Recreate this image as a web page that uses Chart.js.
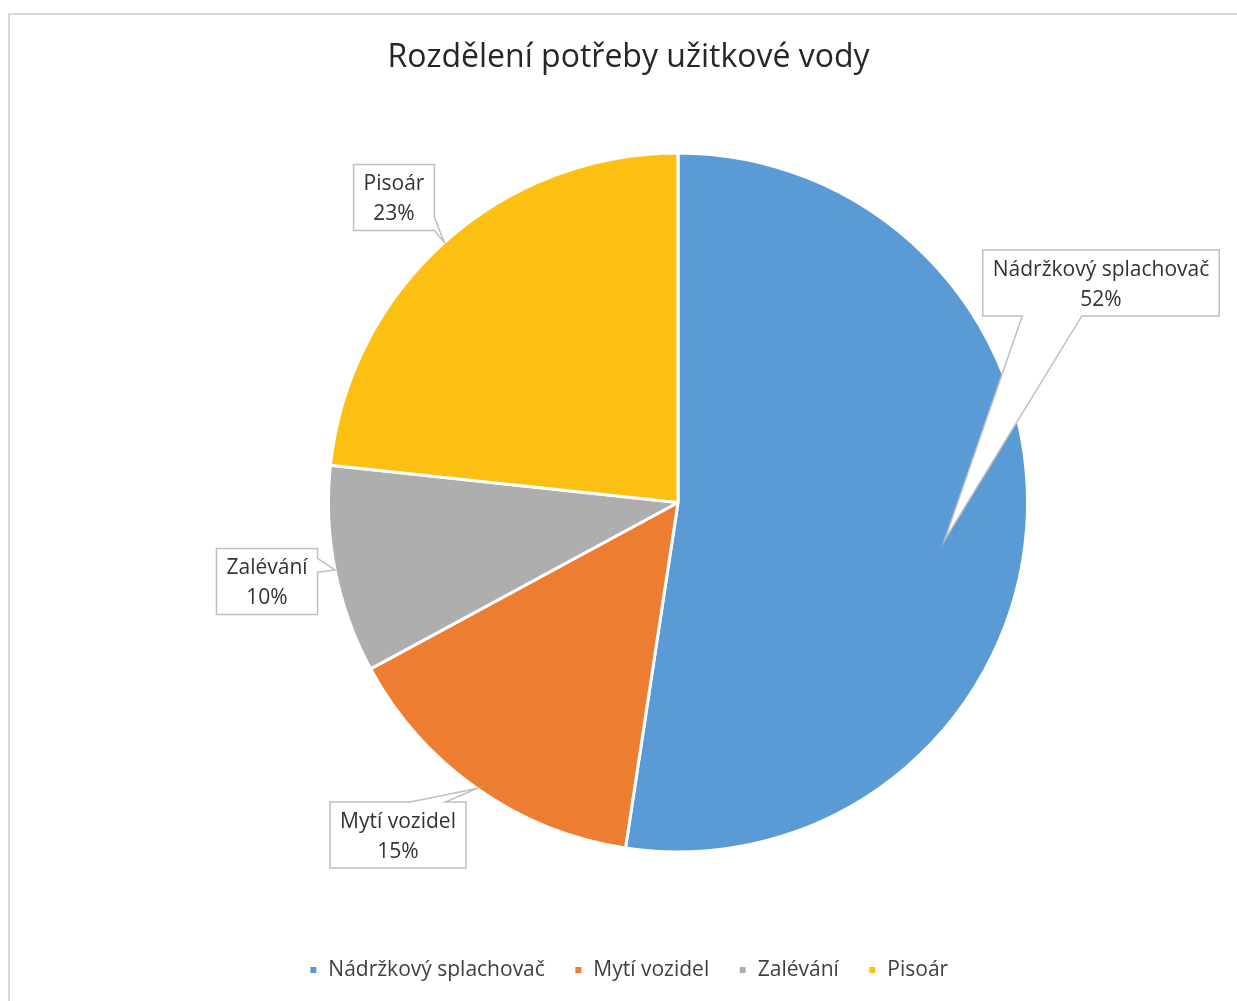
<!DOCTYPE html>
<html>
<head>
<meta charset="utf-8">
<script src="https://cdn.jsdelivr.net/npm/chart.js@4.4.1/dist/chart.umd.min.js"></script>
<style>
  html, body { margin: 0; padding: 0; background: #ffffff; overflow: hidden; width: 1237px; height: 1001px; }
  #frame { position: absolute; left: 8px; top: 13px; width: 1300px; height: 1100px;
           border-left: 2px solid #d9d9d9; border-top: 2px solid #d9d9d9; box-sizing: border-box; }
  #wrap { position: absolute; left: 10px; top: 15px; width: 1237px; height: 986px; }
</style>
</head>
<body>
<div id="frame"></div>
<div id="wrap"><canvas id="c"></canvas></div>
<script>
// ---- data ----
const title = 'Rozdělení potřeby užitkové vody';
const categories = ['Nádržkový splachovač', 'Mytí vozidel', 'Zalévání', 'Pisoár'];
const values = [52.4, 14.7, 9.6, 23.3];
const colors = ['#5B9BD5', '#ED7D31', '#AEAEAE', '#FBC012'];

const FONT = "'Open Sans', 'DejaVu Sans', sans-serif";

// callout layout (offset of box centre from pie centre, wedge side & base, tip)
const calloutLayout = [
  { dx: 423, dy: -219.5, side: 'bottom', a: 0.167, b: 0.419, rFrac: 0.77, shiftDeg: 3.8 },
  { dx: -280, dy: 332.5, side: 'top', a: 0.59, b: 0.85, rFrac: 1.0, shiftDeg: 0 },
  { dx: -411, dy: 79, side: 'right', a: 0.15, b: 0.36, rFrac: 1.0, shiftDeg: 0 },
  { dx: -284, dy: -305, side: 'right', a: 0.80, b: 1.0, rFrac: 1.0, shiftDeg: 0 }
];

const PLOT_SHIFT_LEFT = 99;
const PLOT_TRIM_BOTTOM = 77;

const shiftPlugin = {
  id: 'shiftPlot',
  afterLayout(chart) {
    const ca = chart.chartArea;
    ca.left += PLOT_SHIFT_LEFT;
    ca.width = ca.right - ca.left;
    ca.bottom -= PLOT_TRIM_BOTTOM;
    ca.height = ca.bottom - ca.top;
  }
};

const calloutPlugin = {
  id: 'callouts',
  afterDatasetsDraw(chart) {
    const ctx = chart.ctx;
    const meta = chart.getDatasetMeta(0);
    const total = values.reduce((s, v) => s + v, 0);
    ctx.save();
    ctx.font = '21px ' + FONT;
    meta.data.forEach((arc, i) => {
      const L = calloutLayout[i];
      const cx = arc.x, cy = arc.y, R = arc.outerRadius;
      const mid = (arc.startAngle + arc.endAngle) / 2 + L.shiftDeg * Math.PI / 180;
      const tip = { x: cx + Math.cos(mid) * R * L.rFrac, y: cy + Math.sin(mid) * R * L.rFrac };
      const line1 = categories[i];
      const line2 = Math.round(values[i] / total * 100) + '%';
      const tw = Math.max(ctx.measureText(line1).width, ctx.measureText(line2).width);
      const w = tw + 20, h = 66;
      const bx = cx + L.dx, by = cy + L.dy;
      const x0 = bx - w / 2, y0 = by - h / 2, x1 = bx + w / 2, y1 = by + h / 2;
      ctx.beginPath();
      ctx.moveTo(x0, y0);
      if (L.side === 'top') { ctx.lineTo(x0 + L.a * w, y0); ctx.lineTo(tip.x, tip.y); ctx.lineTo(x0 + L.b * w, y0); }
      ctx.lineTo(x1, y0);
      if (L.side === 'right') { ctx.lineTo(x1, y0 + L.a * h); ctx.lineTo(tip.x, tip.y); ctx.lineTo(x1, y0 + L.b * h); }
      ctx.lineTo(x1, y1);
      if (L.side === 'bottom') { ctx.lineTo(x0 + L.b * w, y1); ctx.lineTo(tip.x, tip.y); ctx.lineTo(x0 + L.a * w, y1); }
      ctx.lineTo(x0, y1);
      if (L.side === 'left') { ctx.lineTo(x0, y0 + L.b * h); ctx.lineTo(tip.x, tip.y); ctx.lineTo(x0, y0 + L.a * h); }
      ctx.closePath();
      ctx.fillStyle = '#ffffff';
      ctx.fill();
      ctx.lineWidth = 1.5;
      ctx.strokeStyle = '#bfbfbf';
      ctx.stroke();
      ctx.fillStyle = '#333333';
      ctx.textAlign = 'center';
      ctx.textBaseline = 'middle';
      ctx.fillText(line1, bx, by - 13);
      ctx.fillText(line2, bx, by + 17);
    });
    ctx.restore();
  }
};

new Chart(document.getElementById('c'), {
  type: 'pie',
  data: {
    labels: categories,
    datasets: [{
      data: values,
      backgroundColor: colors,
      borderColor: '#ffffff',
      borderWidth: 3
    }]
  },
  options: {
    responsive: true,
    maintainAspectRatio: false,
    animation: false,
    layout: { padding: { left: 0, right: 0, top: 0, bottom: 10.5 } },
    plugins: {
      title: {
        display: true,
        text: title,
        color: '#262626',
        font: { family: FONT, size: 32, weight: 'normal' },
        padding: { top: 24, bottom: 74 }
      },
      legend: {
        display: true,
        position: 'bottom',
        labels: {
          color: '#404040',
          font: { family: FONT, size: 21 },
          boxWidth: 9,
          boxHeight: 9,
          padding: 29
        }
      },
      tooltip: { enabled: false }
    }
  },
  plugins: [shiftPlugin, calloutPlugin]
});
</script>
</body>
</html>
